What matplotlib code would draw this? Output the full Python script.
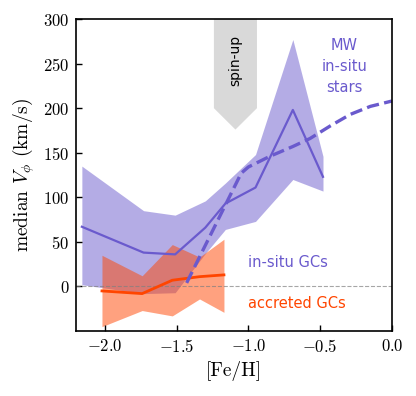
import matplotlib
matplotlib.use('Agg')
import matplotlib.pyplot as plt

# in-situ GCs (median and spread per [Fe/H] bin)
insitu_feh = [-2.16, -1.73, -1.51, -1.30, -1.16, -0.95, -0.69, -0.48]
insitu_med = [67, 38, 36, 66, 93, 111, 198, 123]
insitu_lo = [2, -8, -7, 37, 64, 73, 120, 107]
insitu_hi = [135, 85, 80, 96, 116, 148, 277, 146]

# accreted GCs
accreted_feh = [-2.02, -1.74, -1.53, -1.34, -1.17]
accreted_med = [-5, -8, 7, 11, 13]
accreted_lo = [-45, -27, -33, -14, -29]
accreted_hi = [35, 12, 47, 33, 53]

# MW in-situ stars
mw_feh = [-1.43, -1.05, -1.0, -0.85, -0.69, -0.57, -0.43, -0.29, -0.15, 0.0]
mw_vphi = [4, 127, 134, 146, 157, 166, 180, 193, 202, 208]

# spin-up marker (pentagon arrow)
spin_x = [-1.24, -0.94, -0.94, -1.09, -1.24]
spin_y = [300, 300, 200, 176, 200]

plt.rcParams['font.family'] = 'serif'
plt.rcParams['font.serif'] = ['cmr10']
plt.rcParams['mathtext.fontset'] = 'cm'
plt.rcParams['axes.formatter.use_mathtext'] = True

purple = 'slateblue'
red = 'orangered'

fig = plt.figure(figsize=(4.16, 3.96), dpi=100)
ax = fig.add_axes([0.183, 0.164, 0.759, 0.788])

ax.fill_between(insitu_feh, insitu_lo, insitu_hi, color=purple, alpha=0.5, lw=0)
ax.fill_between(accreted_feh, accreted_lo, accreted_hi, color=red, alpha=0.5, lw=0)
ax.axhline(0, color='gray', lw=0.8, ls='--', alpha=0.7)
ax.plot(insitu_feh, insitu_med, color=purple, lw=1.6)
ax.plot(accreted_feh, accreted_med, color=red, lw=2.0)
ax.plot(mw_feh, mw_vphi, color=purple, lw=2.4, ls='--')

ax.fill(spin_x, spin_y, color='#d9d9d9', lw=0, zorder=0.5)
ax.text(-1.09, 254, 'spin-up', rotation=90, ha='center', va='center',
        fontsize=10, family='DejaVu Sans')

ax.text(-0.333, 247, 'MW\nin-situ\nstars', ha='center', va='center',
        color=purple, fontsize=10.5, family='DejaVu Sans', linespacing=1.5)
ax.text(-1.0, 27, 'in-situ GCs', ha='left', va='center',
        color=purple, fontsize=10.5, family='DejaVu Sans')
ax.text(-1.0, -19, 'accreted GCs', ha='left', va='center',
        color=red, fontsize=10.5, family='DejaVu Sans')

ax.set_xlim(-2.2, 0.0)
ax.set_ylim(-50, 300)
ax.set_xticks([-2.0, -1.5, -1.0, -0.5, 0.0])
ax.set_yticks([0, 50, 100, 150, 200, 250, 300])
ax.tick_params(direction='in', length=4, width=1, labelsize=12, pad=5)
for s in ax.spines.values():
    s.set_linewidth(1.2)
ax.set_xlabel('[Fe/H]', fontsize=14)
ax.set_ylabel(r'median $V_\phi$ (km/s)', fontsize=14)

fig.savefig('out.png', dpi=100)
